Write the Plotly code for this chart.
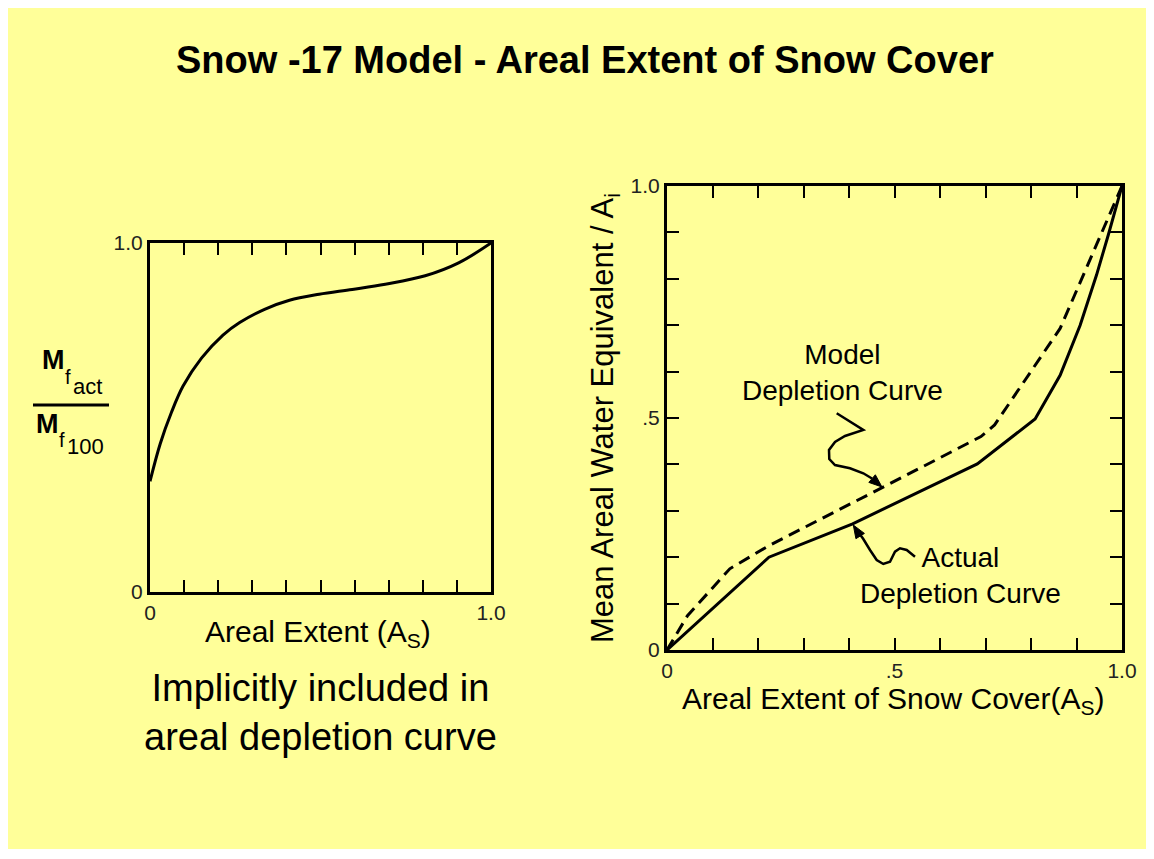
import plotly.graph_objects as go

# ---- data ----
# left panel: melt factor ratio vs areal extent
melt_x = [0, 0.03, 0.063, 0.097, 0.151, 0.214, 0.263, 0.336, 0.409, 0.496, 0.593, 0.69, 0.807, 0.905, 1.0]
melt_y = [0.317, 0.425, 0.515, 0.59, 0.67, 0.736, 0.772, 0.81, 0.836, 0.853, 0.867, 0.882, 0.906, 0.943, 1.0]

# right panel: areal depletion curves
actual_x = [0, 0.224, 0.408, 0.682, 0.809, 0.864, 0.908, 0.944, 0.97, 1.0]
actual_y = [0, 0.2, 0.272, 0.401, 0.498, 0.592, 0.70, 0.808, 0.895, 1.0]
model_x = [0, 0.045, 0.138, 0.224, 0.475, 0.69, 0.72, 0.864, 1.0]
model_y = [0, 0.074, 0.175, 0.225, 0.351, 0.46, 0.485, 0.693, 1.0]

tick_pos = [i / 10 for i in range(11)]
left_xlabels = ["0"] + [""] * 9 + ["1.0"]
right_xlabels = ["0", "", "", "", "", ".5", "", "", "", "", "1.0"]

title = "Snow -17 Model - Areal Extent of Snow Cover"
note = "Implicitly included in<br>areal depletion curve"

# ---- page geometry (figure sits 8px in from the page corner) ----
OX, OY = 8, 8
W, H = 1138, 841
YELLOW = "#ffff99"
FONT = "Liberation Sans, Arial, sans-serif"


def fx(x):
    return (x - OX) / W


def fy(y):
    return 1 - (y - OY) / H


def path_from(pts):
    return "M " + " L ".join(f"{fx(x):.5f},{fy(y):.5f}" for x, y in pts)


def arrow_head(tip, base, length=13, half=5):
    tx, ty = tip
    dx, dy = tx - base[0], ty - base[1]
    d = (dx * dx + dy * dy) ** 0.5
    ux, uy = dx / d, dy / d
    cx, cy = tx - ux * length, ty - uy * length
    nx, ny = -uy, ux
    pts = [(tx, ty), (cx + nx * half, cy + ny * half), (cx - nx * half, cy - ny * half)]
    return path_from(pts) + " Z"


fig = go.Figure()

fig.add_trace(go.Scatter(x=melt_x, y=melt_y, mode="lines", line=dict(color="black", width=3, shape="spline"),
                         xaxis="x", yaxis="y", showlegend=False, hoverinfo="skip"))
fig.add_trace(go.Scatter(x=actual_x, y=actual_y, mode="lines", line=dict(color="black", width=3),
                         xaxis="x2", yaxis="y2", showlegend=False, hoverinfo="skip"))
fig.add_trace(go.Scatter(x=model_x, y=model_y, mode="lines", line=dict(color="black", width=3, dash="12px,7px"),
                         xaxis="x2", yaxis="y2", showlegend=False, hoverinfo="skip"))

tickfont = dict(family=FONT, size=21, color="#222")
common = dict(range=[0, 1], showgrid=False, zeroline=False, showline=True, linecolor="black",
              linewidth=3, tickfont=tickfont, fixedrange=True, automargin=False)

fig.update_layout(
    template="none",
    width=W, height=H,
    margin=dict(l=0, r=0, t=0, b=0, pad=0),
    paper_bgcolor=YELLOW, plot_bgcolor=YELLOW,
    font=dict(family=FONT, color="black"),
    xaxis=dict(domain=[fx(150), fx(491)], anchor="y", tickvals=tick_pos, ticktext=left_xlabels,
               ticks="inside", ticklen=12, tickwidth=2, tickcolor="black", mirror="ticks", **common),
    yaxis=dict(domain=[fy(592), fy(243)], anchor="x", tickvals=[0, 1], ticktext=["0", "1.0"],
               ticks="", mirror=True, **common),
    yaxis3=dict(overlaying="y", side="right", anchor="x", range=[0, 1], tickvals=tick_pos[1:-1],
                ticks="inside", ticklen=12, tickwidth=2, tickcolor="black", showticklabels=False,
                showgrid=False, zeroline=False, showline=False, fixedrange=True, automargin=False),
    xaxis2=dict(domain=[fx(667), fx(1122)], anchor="y2", tickvals=tick_pos, ticktext=right_xlabels,
                ticks="inside", ticklen=12, tickwidth=2, tickcolor="black", mirror="ticks", **common),
    yaxis2=dict(domain=[fy(650), fy(186)], anchor="x2", tickvals=tick_pos,
                ticktext=["0", "", "", "", "", ".5", "", "", "", "", "1.0"],
                ticks="inside", ticklen=12, tickwidth=2, tickcolor="black", mirror="ticks", **common),
)

ann = []


def text(x, y, s, size, bold=False, angle=0, xanchor="center", yanchor="middle"):
    ann.append(dict(x=fx(x), y=fy(y), xref="paper", yref="paper", text=f"<b>{s}</b>" if bold else s,
                    showarrow=False, font=dict(family=FONT, size=size, color="black"),
                    textangle=angle, xanchor=xanchor, yanchor=yanchor))


text(585, 60, title, 38, bold=True)
text(320, 712, note, 38)
text(318, 633, "Areal Extent (A<sub>S</sub>)", 30)
text(893, 700, "Areal Extent of Snow Cover(A<sub>S</sub>)", 30)
text(605, 418, "Mean Areal Water Equivalent / A<sub>i</sub>", 31, angle=-90)
text(842, 373, "Model<br>Depletion Curve", 28)
text(960, 575, "Actual<br>Depletion Curve", 28)

# fraction label M_f_act / M_f_100
text(53, 360, "M", 27, bold=True)
text(68, 377, "f", 20)
text(71, 386, "act", 22, xanchor="left")
text(47, 424, "M", 27, bold=True)
text(62, 440, "f", 20)
text(65, 446, "100", 22, xanchor="left")

fig.update_layout(annotations=ann)

model_callout = [(836.7, 413.3), (863.3, 430), (845, 436), (835, 442), (829, 450), (829.3, 459), (835, 465),
                 (850, 468.3), (863.3, 473.3), (872, 478.5)]
actual_callout = [(915, 556.7), (906.7, 550), (900, 548.3), (895, 551.7), (890, 561.7), (883.3, 564),
                  (876.7, 560), (870, 550), (863.3, 539), (859, 533)]

shapes = [
    dict(type="line", xref="paper", yref="paper", x0=fx(33), x1=fx(109), y0=fy(405), y1=fy(405),
         line=dict(color="black", width=3)),
    dict(type="path", xref="paper", yref="paper", path=path_from(model_callout),
         line=dict(color="black", width=2.5)),
    dict(type="path", xref="paper", yref="paper", path=path_from(actual_callout),
         line=dict(color="black", width=2.5)),
    dict(type="path", xref="paper", yref="paper", path=arrow_head((882, 487), (872, 478.5)),
         fillcolor="black", line=dict(color="black", width=1)),
    dict(type="path", xref="paper", yref="paper", path=arrow_head((853.3, 525), (862, 539)),
         fillcolor="black", line=dict(color="black", width=1)),
]
fig.update_layout(shapes=shapes)

fig.write_html("out.html")
